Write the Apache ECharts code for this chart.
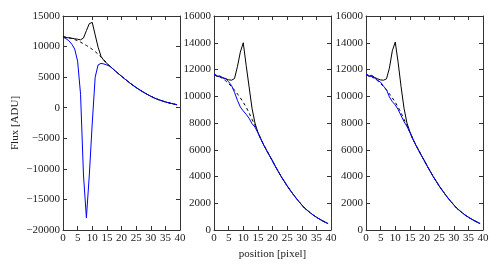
<!DOCTYPE html>
<html>
<head>
<meta charset="utf-8">
<script src="https://cdn.jsdelivr.net/npm/echarts@6/dist/echarts.min.js"></script>
<style>
html,body{margin:0;padding:0;background:#fff;}
#chart{width:501px;height:268px;}
</style>
</head>
<body>
<div id="chart"></div>
<script>
// pixel positions (x values) shared by all curves
var positions = [0,1,2,3,4,5,6,7,8,9,10,11,12,13,14,15,16,17,18,19,20,21,22,23,24,25,26,27,28,29,30,31,32,33,34,35,36,37,38,39];

// dashed model profile (same in all panels)
var modelFlux = [11650,11550,11450,11320,11150,10950,10720,10460,10180,9880,9550,9180,8750,8280,7800,7300,6800,6380,5960,5550,5150,4760,4370,3990,3640,3300,2980,2680,2400,2130,1880,1640,1440,1260,1100,950,820,700,590,480];

// panel 1
var p1Observed = [11550,11480,11420,11360,11280,11200,11100,11400,12600,13750,13950,11900,9900,8400,7700,7250,6800,6380,5960,5550,5150,4760,4370,3990,3640,3300,2980,2680,2400,2130,1880,1640,1440,1260,1100,950,820,700,590,480];
var p1Corrected = [11550,11300,10950,10400,9600,7600,2200,-11000,-18000,-11000,-2500,5000,7000,7250,7150,6980,6780,6380,5960,5550,5150,4760,4370,3990,3640,3300,2980,2680,2400,2130,1880,1640,1440,1260,1100,950,820,700,590,480];

// panel 2
var p2Observed = [11650,11480,11520,11360,11320,11230,11200,11320,12200,13300,14000,12300,10700,9100,8000,7300,6820,6360,5950,5560,5170,4740,4360,3980,3650,3300,2990,2690,2400,2140,1870,1620,1460,1280,1100,960,830,700,590,480];
var p2Corrected = [11650,11520,11460,11400,11300,11080,10800,10300,9700,9200,8900,8650,8350,7950,7700,7280,6800,6340,5940,5550,5160,4750,4370,3990,3640,3310,2980,2690,2410,2130,1880,1630,1450,1270,1110,960,820,690,580,470];

// panel 3
var p3Observed = [11650,11500,11560,11400,11300,11220,11200,11300,12100,13400,14050,12500,10700,9100,8000,7350,6830,6370,5960,5550,5160,4750,4370,3990,3650,3300,2990,2690,2400,2140,1880,1630,1460,1270,1100,960,830,700,590,480];
var p3Corrected = [11650,11500,11480,11350,11200,11050,10750,10500,9950,9600,9350,9000,8550,8100,7750,7300,6800,6350,5950,5550,5160,4750,4370,3990,3640,3300,2980,2690,2400,2130,1880,1630,1450,1270,1100,960,820,700,590,480];

// axis ticks
var xTicks = {min: 0, max: 40, interval: 5};
var yTicksP1 = {min: -20000, max: 15000, interval: 5000};
var yTicksP23 = {min: 0, max: 16000, interval: 2000};

var yLabel = 'Flux [ADU]';
var xLabel = 'position [pixel]';

function pairs(xs, ys){ return xs.map(function(x,i){ return [x, ys[i]]; }); }

var FONT = 'Liberation Serif';
var TXT = '#222';
var grids = [
  {left: 63, top: 16, width: 117, height: 214},
  {left: 214, top: 16, width: 117, height: 214},
  {left: 366, top: 16, width: 117, height: 214}
];
var yRanges = [yTicksP1, yTicksP23, yTicksP23];
var panels = [
  [p1Observed, p1Corrected],
  [p2Observed, p2Corrected],
  [p3Observed, p3Corrected]
];

function fmt(v){ return String(v).replace('-', '\u2212'); }

var xAxes = [], yAxes = [], series = [];
for (var i = 0; i < 3; i++) {
  xAxes.push({
    gridIndex: i, type: 'value', position: 'bottom',
    min: xTicks.min, max: xTicks.max, interval: xTicks.interval,
    axisLine: {show: true, onZero: false, lineStyle: {color: '#333', width: 1}},
    axisTick: {show: true, inside: true, length: 4, lineStyle: {color: '#333'}},
    axisLabel: {show: true, fontFamily: FONT, fontSize: 11, color: TXT, margin: 3, formatter: fmt},
    splitLine: {show: false},
    name: i === 1 ? xLabel : '', nameLocation: 'middle', nameGap: 17,
    nameTextStyle: {fontFamily: FONT, fontSize: 11, color: TXT}
  });
  yAxes.push({
    gridIndex: i, type: 'value', position: 'left',
    min: yRanges[i].min, max: yRanges[i].max, interval: yRanges[i].interval,
    axisLine: {show: true, onZero: false, lineStyle: {color: '#333', width: 1}},
    axisTick: {show: true, inside: true, length: 4, lineStyle: {color: '#333'}},
    axisLabel: {show: true, fontFamily: FONT, fontSize: 11, color: TXT, margin: 3, formatter: fmt},
    splitLine: {show: false},
    name: i === 0 ? yLabel : '', nameLocation: 'middle', nameGap: 42, nameRotate: 90,
    nameTextStyle: {fontFamily: FONT, fontSize: 11, color: TXT}
  });
}
for (var i = 0; i < 3; i++) {
  xAxes.push({
    gridIndex: i, type: 'value', position: 'top',
    min: xTicks.min, max: xTicks.max, interval: xTicks.interval,
    axisLine: {show: true, onZero: false, lineStyle: {color: '#333', width: 1}},
    axisTick: {show: true, inside: true, length: 4, lineStyle: {color: '#333'}},
    axisLabel: {show: false}, splitLine: {show: false}
  });
  yAxes.push({
    gridIndex: i, type: 'value', position: 'right',
    min: yRanges[i].min, max: yRanges[i].max, interval: yRanges[i].interval,
    axisLine: {show: true, onZero: false, lineStyle: {color: '#333', width: 1}},
    axisTick: {show: true, inside: true, length: 4, lineStyle: {color: '#333'}},
    axisLabel: {show: false}, splitLine: {show: false}
  });
}
for (var i = 0; i < 3; i++) {
  series.push({
    type: 'line', xAxisIndex: i, yAxisIndex: i, showSymbol: false, symbol: 'none',
    data: pairs(positions, panels[i][0]),
    lineStyle: {color: '#000', width: 1}, z: 2
  });
  series.push({
    type: 'line', xAxisIndex: i, yAxisIndex: i, showSymbol: false, symbol: 'none',
    data: pairs(positions, modelFlux),
    lineStyle: {color: '#000', width: 1, type: [3, 3]}, z: 3
  });
  series.push({
    type: 'line', xAxisIndex: i, yAxisIndex: i, showSymbol: false, symbol: 'none',
    data: pairs(positions, panels[i][1]),
    lineStyle: {color: '#0000ff', width: 1}, z: 4
  });
}

var chart = echarts.init(document.getElementById('chart'), null, {renderer: 'canvas'});
chart.setOption({
  animation: false,
  backgroundColor: '#fff',
  grid: grids,
  xAxis: xAxes,
  yAxis: yAxes,
  series: series
});
</script>
</body>
</html>
